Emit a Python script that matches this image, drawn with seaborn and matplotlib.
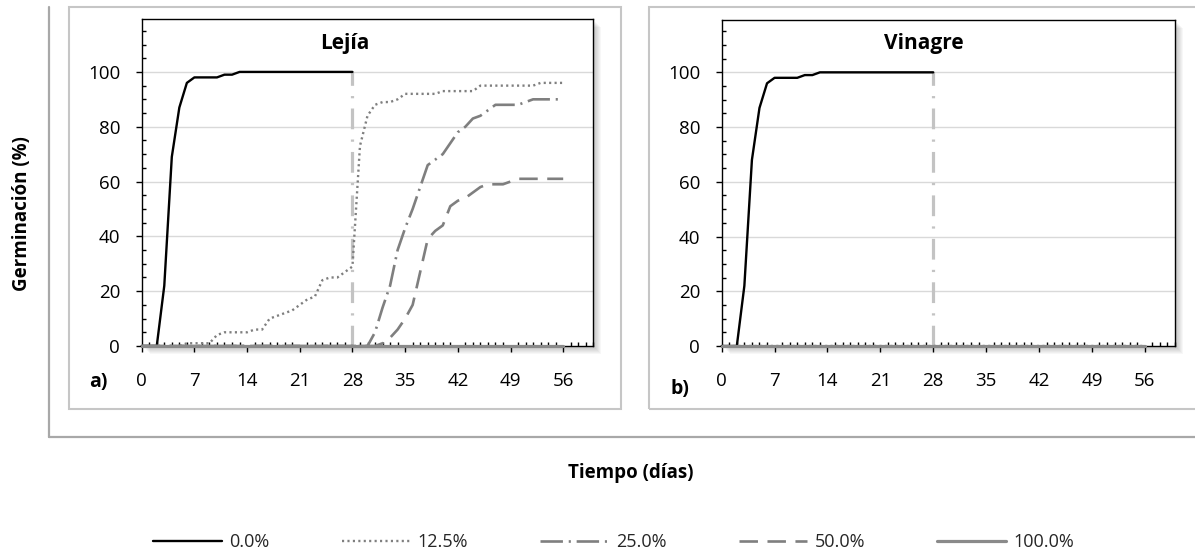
import matplotlib
matplotlib.use("Agg")
import matplotlib.pyplot as plt
import seaborn as sns
import pandas as pd
from matplotlib.ticker import MultipleLocator
from matplotlib.patches import Rectangle
from matplotlib.lines import Line2D

# ---------------- data ----------------
days = [0, 1, 2, 3, 4, 5, 6, 7, 8, 9, 10, 11, 12, 13, 14, 15, 16, 17, 18, 19,
        20, 21, 22, 23, 24, 25, 26, 27, 28, 29, 30, 31, 32, 33, 34, 35, 36, 37,
        38, 39, 40, 41, 42, 43, 44, 45, 46, 47, 48, 49, 50, 51, 52, 53, 54, 55, 56]
days_0 = [0, 1, 2, 3, 4, 5, 6, 7, 8, 9, 10, 11, 12, 13, 14, 15, 16, 17, 18, 19,
          20, 21, 22, 23, 24, 25, 26, 27, 28]

lejia_000 = [0, 0, 0, 22, 69, 87, 96, 98, 98, 98, 98, 99, 99, 100, 100, 100, 100,
             100, 100, 100, 100, 100, 100, 100, 100, 100, 100, 100, 100]
lejia_125 = [0, 0, 0, 0, 0, 0, 1, 1, 1, 1, 4, 5, 5, 5, 5, 6, 6, 10, 11, 12, 13, 15,
             17, 18, 24, 25, 25, 27, 29, 73, 84, 88, 89, 89, 90, 92, 92, 92, 92, 92,
             93, 93, 93, 93, 93, 95, 95, 95, 95, 95, 95, 95, 95, 96, 96, 96, 96]
lejia_250 = [0, 0, 0, 0, 0, 0, 0, 0, 0, 0, 0, 0, 0, 0, 0, 0, 0, 0, 0, 0, 0, 0, 0, 0,
             0, 0, 0, 0, 0, 0, 0, 5, 14, 22, 35, 43, 50, 58, 66, 68, 70, 74, 78, 80,
             83, 84, 86, 88, 88, 88, 88, 89, 90, 90, 90, 90, 90]
lejia_500 = [0, 0, 0, 0, 0, 0, 0, 0, 0, 0, 0, 0, 0, 0, 0, 0, 0, 0, 0, 0, 0, 0, 0, 0,
             0, 0, 0, 0, 0, 0, 0, 0, 1, 3, 6, 10, 15, 27, 39, 42, 44, 51, 53, 54,
             56, 58, 59, 59, 59, 60, 61, 61, 61, 61, 61, 61, 61]
lejia_1000 = [0, 0, 0, 0, 0, 0, 0, 0, 0, 0, 0, 0, 0, 0, 0, 0, 0, 0, 0, 0, 0, 0, 0, 0,
              0, 0, 0, 0, 0, 0, 0, 0, 0, 0, 0, 0, 0, 0, 0, 0, 0, 0, 0, 0, 0, 0, 0, 0,
              0, 0, 0, 0, 0, 0, 0, 0, 0]

vinagre_000 = [0, 0, 0, 22, 68, 87, 96, 98, 98, 98, 98, 99, 99, 100, 100, 100, 100,
               100, 100, 100, 100, 100, 100, 100, 100, 100, 100, 100, 100]
vinagre_125 = [0, 0, 0, 0, 0, 0, 0, 0, 0, 0, 0, 0, 0, 0, 0, 0, 0, 0, 0, 0, 0, 0, 0, 0,
               0, 0, 0, 0, 0, 0, 0, 0, 0, 0, 0, 0, 0, 0, 0, 0, 0, 0, 0, 0, 0, 0, 0, 0,
               0, 0, 0, 0, 0, 0, 0, 0, 0]
vinagre_250 = [0, 0, 0, 0, 0, 0, 0, 0, 0, 0, 0, 0, 0, 0, 0, 0, 0, 0, 0, 0, 0, 0, 0, 0,
               0, 0, 0, 0, 0, 0, 0, 0, 0, 0, 0, 0, 0, 0, 0, 0, 0, 0, 0, 0, 0, 0, 0, 0,
               0, 0, 0, 0, 0, 0, 0, 0, 0]
vinagre_500 = [0, 0, 0, 0, 0, 0, 0, 0, 0, 0, 0, 0, 0, 0, 0, 0, 0, 0, 0, 0, 0, 0, 0, 0,
               0, 0, 0, 0, 0, 0, 0, 0, 0, 0, 0, 0, 0, 0, 0, 0, 0, 0, 0, 0, 0, 0, 0, 0,
               0, 0, 0, 0, 0, 0, 0, 0, 0]
vinagre_1000 = [0, 0, 0, 0, 0, 0, 0, 0, 0, 0, 0, 0, 0, 0, 0, 0, 0, 0, 0, 0, 0, 0, 0, 0,
                0, 0, 0, 0, 0, 0, 0, 0, 0, 0, 0, 0, 0, 0, 0, 0, 0, 0, 0, 0, 0, 0, 0, 0,
                0, 0, 0, 0, 0, 0, 0, 0, 0]

marker_x = [28, 28]
marker_y = [0, 100]

series_labels = ["0.0%", "12.5%", "25.0%", "50.0%", "100.0%"]
x_ticks = [0, 7, 14, 21, 28, 35, 42, 49, 56]
y_ticks = [0, 20, 40, 60, 80, 100]
panel_titles = ["Lejía", "Vinagre"]
panel_tags = ["a)", "b)"]

# ---------------- style ----------------
sns.set_theme(style="white")
plt.rcParams["font.family"] = ["Open Sans", "DejaVu Sans"]

W, H = 1195, 559
fig = plt.figure(figsize=(W / 100, H / 100), dpi=100)
fig.patch.set_facecolor("white")


def fx(x):
    return x / W


def fy(y):
    return 1 - y / H


GRAY = "#7f7f7f"
styles = [
    dict(color="black", lw=1.7, linestyle="-"),
    dict(color=GRAY, lw=1.7, linestyle=(0, (0.9, 1.4))),
    dict(color=GRAY, lw=1.9, linestyle=(0, (8.5, 2.2, 0.8, 2.2))),
    dict(color=GRAY, lw=1.9, linestyle=(0, (7.0, 3.6))),
    dict(color="#8a8a8a", lw=2.3, linestyle="-"),
]

# outer frame (left + bottom)
fig.add_artist(Line2D([fx(49), fx(49)], [fy(7), fy(437.3)], color="#a8a8a8", lw=1.6))
fig.add_artist(Line2D([fx(49), fx(1195)], [fy(437.3), fy(437.3)], color="#a8a8a8", lw=1.6))
# panel frames
fig.add_artist(Rectangle((fx(69), fy(409.3)), fx(621) - fx(69), fy(7.3) - fy(409.3),
                         fill=False, edgecolor="#c6c6c6", lw=1.5))
fig.add_artist(Rectangle((fx(649.3), fy(409.3)), fx(1210) - fx(649.3), fy(7.3) - fy(409.3),
                         fill=False, edgecolor="#c6c6c6", lw=1.5))

axes_px = [(141.7, 19.3, 593.3, 346.0), (721.7, 19.8, 1175.0, 346.0)]
panels = [
    [lejia_000, lejia_125, lejia_250, lejia_500, lejia_1000],
    [vinagre_000, vinagre_125, vinagre_250, vinagre_500, vinagre_1000],
]
title_cx = [345, 924]
tag_pos = [(98, 382), (680, 389)]

legend_handles = None
for i, (x0, y0, x1, y1) in enumerate(axes_px):
    # drop shadow
    for k in range(1, 9):
        fig.add_artist(Rectangle((fx(x0 + k), fy(y1 + k)), fx(x1) - fx(x0), fy(y0) - fy(y1),
                                 facecolor="black", edgecolor="none", alpha=0.03, zorder=-1))
    ax = fig.add_axes([fx(x0), fy(y1), fx(x1) - fx(x0), fy(y0) - fy(y1)])
    ax.set_facecolor("white")
    ax.set_xlim(0, 60)
    ax.set_ylim(0, 119.2)

    # reference vertical at day 28
    sns.lineplot(x=marker_x, y=marker_y, ax=ax, estimator=None, sort=False,
                 color="#c3c3c3", lw=2.3, linestyle=(0, (6.5, 3.2, 0.7, 3.2)),
                 clip_on=False, zorder=2.6)

    for j, vals in enumerate(panels[i]):
        xs = days_0 if j == 0 else days
        df = pd.DataFrame({"x": xs, "y": vals})
        sns.lineplot(data=df, x="x", y="y", ax=ax, estimator=None,
                     label=series_labels[j], clip_on=False, zorder=3 + j * 0.1,
                     **styles[j])
    if i == 0:
        legend_handles = ax.get_lines()[1:]
    if ax.get_legend():
        ax.get_legend().remove()

    ax.set_xticks(x_ticks)
    ax.set_yticks(y_ticks)
    ax.xaxis.set_minor_locator(MultipleLocator(1))
    ax.yaxis.set_minor_locator(MultipleLocator(5))
    ax.tick_params(which="major", direction="out", length=4.5, width=1.0, color="black",
                   labelsize=13.5, labelcolor="black", bottom=True, left=True)
    ax.tick_params(which="minor", direction="in", length=3.0, width=1.0, color="black",
                   bottom=True, left=True)
    ax.tick_params(axis="x", which="major", pad=14)
    ax.tick_params(axis="y", which="major", pad=11)
    ax.set_xlabel("")
    ax.set_ylabel("")
    ax.grid(False)
    for yv in y_ticks[1:]:
        ax.axhline(yv, color="#d9d9d9", lw=1.0, zorder=0.5)
    for s in ax.spines.values():
        s.set_visible(True)
        s.set_color("black")
        s.set_linewidth(1.0)

    fig.text(fx(title_cx[i]), fy(44), panel_titles[i], ha="center", va="center",
             fontsize=15, fontweight="bold", color="black")
    fig.text(fx(tag_pos[i][0]), fy(tag_pos[i][1]), panel_tags[i], ha="center", va="center",
             fontsize=14, fontweight="bold", color="black")

fig.text(fx(21.7), fy(213.5), "Germinación (%)", rotation=90, ha="center", va="center",
         fontsize=13.5, fontweight="bold", color="black")
fig.text(fx(631), fy(473), "Tiempo (días)", ha="center", va="center",
         fontsize=13.5, fontweight="bold", color="black")

fig.legend(legend_handles, series_labels, loc="center", bbox_to_anchor=(fx(613.5), fy(542)),
           ncol=5, frameon=False, fontsize=13, handlelength=3.8, handletextpad=0.4,
           columnspacing=4.0)

fig.savefig("out.png", dpi=100, facecolor="white")
